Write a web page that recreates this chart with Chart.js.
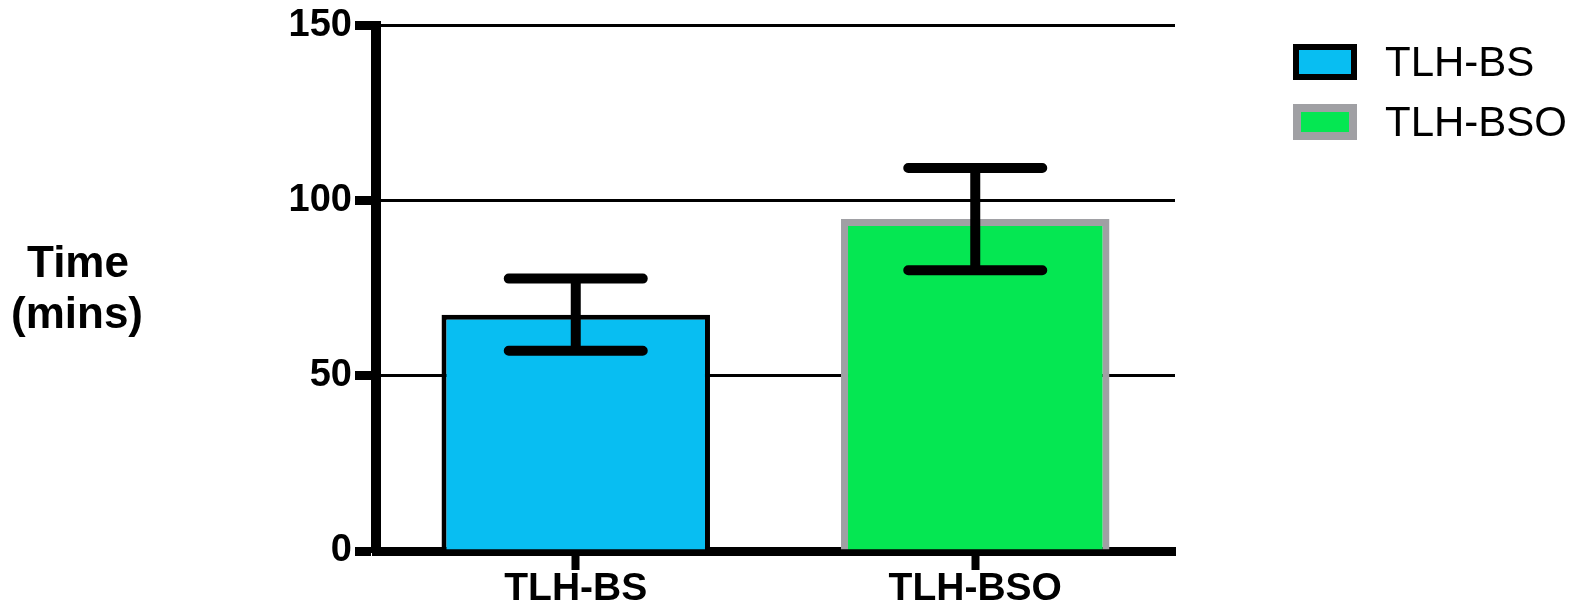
<!DOCTYPE html>
<html>
<head>
<meta charset="utf-8">
<script src="https://cdn.jsdelivr.net/npm/chart.js@4/dist/chart.umd.min.js"></script>
<style>
  html, body { margin: 0; padding: 0; background: #fff; }
  #wrap { width: 1583px; height: 605px; }
</style>
</head>
<body>
<div id="wrap"><canvas id="chart"></canvas></div>
<script>
// Operating time by group (mean +/- error)
const groups = ['TLH-BS', 'TLH-BSO'];
const means = [67.5, 94.8];
const errors = [10.3, 14.6];
const yTicks = [0, 50, 100, 150];
const yTitle = ['Time', '(mins)'];

const fills = ['#08bef2', '#05e752'];
const edges = ['#000000', '#a0a0a4'];
const edgeWidths = [5, 7];

const FONT = "'Liberation Sans', Arial, sans-serif";

// error bars drawn from the scales
const errorBars = {
  id: 'errorBars',
  afterDatasetsDraw(chart) {
    const { ctx, scales: { x, y } } = chart;
    ctx.save();
    ctx.strokeStyle = '#000';
    ctx.lineWidth = 10;
    ctx.lineCap = 'round';
    means.forEach((m, i) => {
      const cx = x.getPixelForValue(i);
      const top = y.getPixelForValue(m + errors[i]);
      const bot = y.getPixelForValue(m - errors[i]);
      ctx.beginPath();
      ctx.moveTo(cx, top); ctx.lineTo(cx, bot);
      ctx.moveTo(cx - 67, top); ctx.lineTo(cx + 67, top);
      ctx.moveTo(cx - 67, bot); ctx.lineTo(cx + 67, bot);
      ctx.stroke();
    });
    ctx.restore();
  }
};

// horizontal y-axis title and the legend on the right
const extras = {
  id: 'extras',
  afterDraw(chart) {
    const { ctx, chartArea } = chart;
    ctx.save();
    ctx.fillStyle = '#000';
    ctx.font = `bold 44px ${FONT}`;
    ctx.textAlign = 'center';
    ctx.textBaseline = 'alphabetic';
    ctx.fillText(yTitle[0], 78, 277);
    ctx.fillText(yTitle[1], 77, 328);

    const left = chartArea.right + 118;
    ctx.textAlign = 'left';
    ctx.font = `42px ${FONT}`;
    groups.forEach((g, i) => {
      const top = 44 + i * 60;
      const w = 64, h = 36, lw = edgeWidths[i] + 1;
      ctx.fillStyle = fills[i];
      ctx.fillRect(left, top, w, h);
      ctx.strokeStyle = edges[i];
      ctx.lineWidth = lw;
      ctx.strokeRect(left + lw / 2, top + lw / 2, w - lw, h - lw);
      ctx.fillStyle = '#000';
      ctx.fillText(g, left + 92, top + 32);
    });
    ctx.restore();
  }
};

new Chart(document.getElementById('chart'), {
  type: 'bar',
  data: {
    labels: groups,
    datasets: [{
      label: 'Time',
      data: means,
      backgroundColor: fills,
      borderColor: edges,
      borderWidth: edgeWidths,
      barPercentage: 0.672,
      categoryPercentage: 1,
    }]
  },
  options: {
    responsive: true,
    maintainAspectRatio: false,
    animation: false,
    layout: { padding: { top: 25, right: 408, bottom: 0, left: 0 } },
    plugins: { legend: { display: false }, tooltip: { enabled: false } },
    scales: {
      x: {
        z: 1,
        grid: { drawOnChartArea: false, offset: false, tickLength: 19, tickWidth: 8, tickColor: '#000' },
        border: { color: '#000', width: 9 },
        ticks: { color: '#000', padding: 0, font: { family: FONT, size: 39, weight: 'bold', lineHeight: 1 } },
        afterFit: s => { s.height = 54; }
      },
      y: {
        min: 0,
        max: 150,
        afterBuildTicks: s => { s.ticks = yTicks.map(v => ({ value: v })); },
        grid: { color: '#000', lineWidth: 3, tickLength: 21, tickWidth: 9, tickColor: '#000' },
        border: { color: '#000', width: 10 },
        ticks: { color: '#000', padding: 3, font: { family: FONT, size: 38, weight: 'bold' } },
        afterFit: s => { s.width = 376; }
      }
    }
  },
  plugins: [errorBars, extras]
});
</script>
</body>
</html>
